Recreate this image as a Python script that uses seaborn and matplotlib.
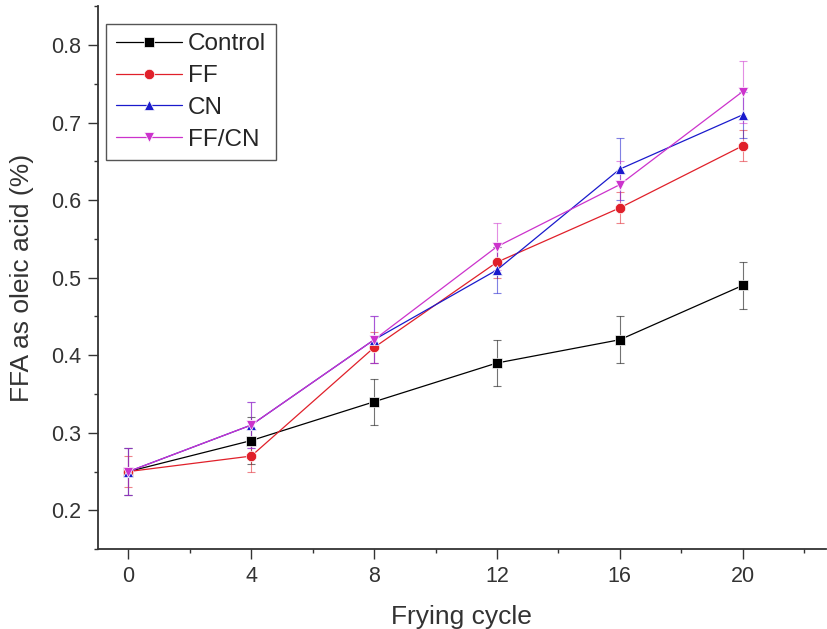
import numpy as np
import pandas as pd
import seaborn as sns
import matplotlib.pyplot as plt
from matplotlib.ticker import MultipleLocator

cycles = [0, 4, 8, 12, 16, 20]
control = [0.25, 0.29, 0.34, 0.39, 0.42, 0.49]
ff = [0.25, 0.27, 0.41, 0.52, 0.59, 0.67]
cn = [0.25, 0.31, 0.42, 0.51, 0.64, 0.71]
ffcn = [0.25, 0.31, 0.42, 0.54, 0.62, 0.74]

control_err = [0.03, 0.03, 0.03, 0.03, 0.03, 0.03]
ff_err = [0.02, 0.02, 0.02, 0.02, 0.02, 0.02]
cn_err = [0.03, 0.03, 0.03, 0.03, 0.04, 0.03]
ffcn_err = [0.03, 0.03, 0.03, 0.03, 0.03, 0.04]

names = ['Control', 'FF', 'CN', 'FF/CN']
colors = ['black', '#e0202a', '#1a1acc', '#cc33cc']
markers = ['s', 'o', '^', 'v']

df = pd.DataFrame({
    'cycle': cycles * 4,
    'ffa': control + ff + cn + ffcn,
    'err': control_err + ff_err + cn_err + ffcn_err,
    'group': np.repeat(names, len(cycles)),
})

sns.set_style('ticks')
plt.rcParams['font.family'] = ['Liberation Sans', 'DejaVu Sans']

fig = plt.figure(figsize=(8.28, 6.29), dpi=100)
ax = fig.add_axes([0.118, 0.127, 0.879, 0.863])

for name, c in zip(names, colors):
    d = df[df.group == name]
    ax.errorbar(d.cycle, d.ffa, yerr=d.err, fmt='none', ecolor=c,
                elinewidth=0.8, capsize=3, capthick=0.8, alpha=0.55)

sns.lineplot(data=df, x='cycle', y='ffa', hue='group', style='group',
             palette=colors, markers=markers, dashes=False, ax=ax,
             linewidth=0.9, markersize=7.5, markeredgewidth=0.5)

ax.set_xlim(-1, 22.7)
ax.set_ylim(0.15, 0.85)
ax.set_xticks(cycles)
ax.xaxis.set_minor_locator(MultipleLocator(2))
ax.yaxis.set_major_locator(MultipleLocator(0.1))
ax.yaxis.set_minor_locator(MultipleLocator(0.05))
ax.tick_params(which='major', length=7, width=1, labelsize=15.5, pad=5, colors='#333333')
ax.tick_params(which='minor', length=3, width=1, colors='#333333')
ax.set_xlabel('Frying cycle', fontsize=19, color='#333333', labelpad=13)
ax.set_ylabel('FFA as oleic acid (%)', fontsize=19, color='#333333', labelpad=12)
sns.despine(ax=ax)
for s in ['left', 'bottom']:
    ax.spines[s].set_linewidth(1.3)
    ax.spines[s].set_color('#333333')

leg = ax.legend(loc='upper left', bbox_to_anchor=(0.012, 0.968), fontsize=17.5,
                fancybox=False, edgecolor='#555555', framealpha=1,
                handlelength=2.7, handletextpad=0.25, borderpad=0.4,
                labelspacing=0.4, borderaxespad=0)
leg.get_frame().set_linewidth(1)

fig.savefig('out.png', dpi=100)
